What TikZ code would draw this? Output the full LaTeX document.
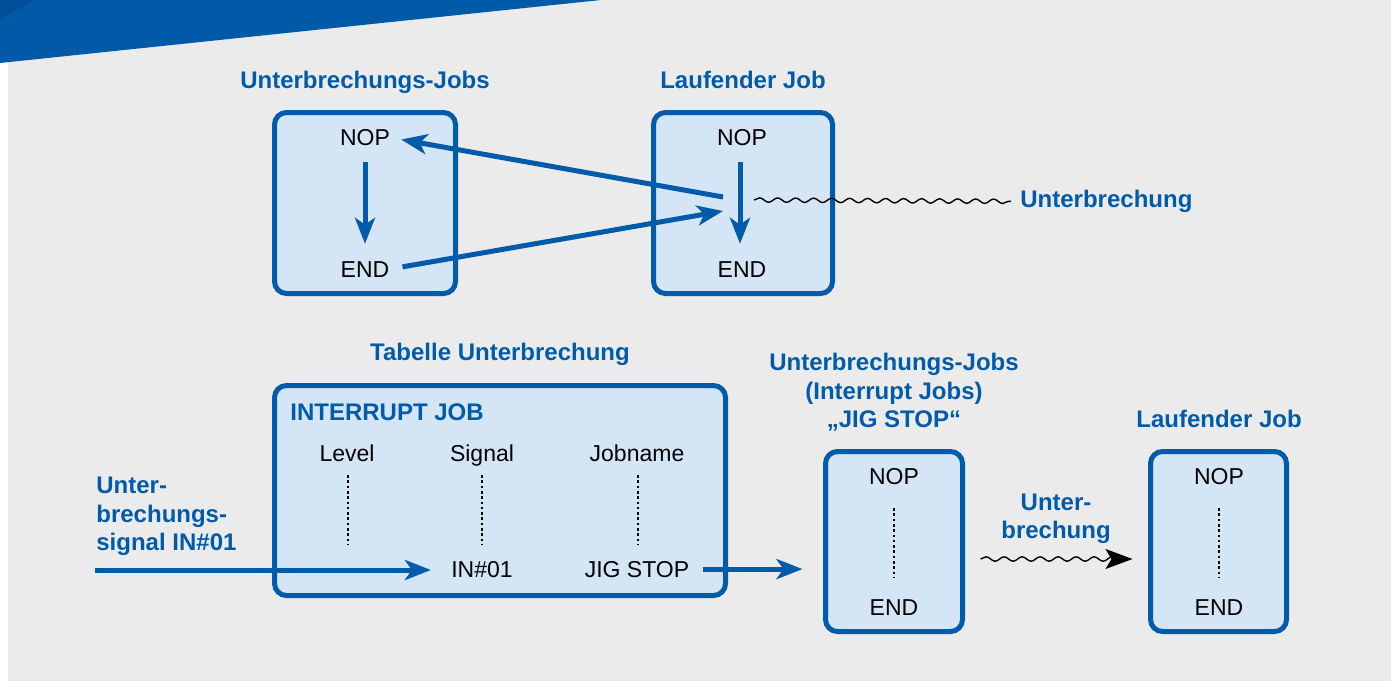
\documentclass[tikz,border=0pt]{standalone}
\usepackage{fontspec}
\setmainfont{Liberation Sans}
\usetikzlibrary{arrows.meta,decorations.pathmorphing,calc}

\definecolor{sigblue}{RGB}{0,91,170}
\definecolor{bandblue}{RGB}{0,90,168}
\definecolor{banddark}{RGB}{0,78,150}
\definecolor{boxfill}{RGB}{212,229,246}
\definecolor{pagegray}{RGB}{235,235,235}

\tikzset{
  jobbox/.style={draw=sigblue, fill=boxfill, line width=2.5pt, rounded corners=6pt, inner sep=0pt},
  txt/.style={font=\fontsize{11.5}{13}\selectfont, text=black, inner sep=0pt, anchor=base},
  heading/.style={font=\fontsize{12}{14.25}\selectfont\bfseries, text=sigblue, inner sep=0pt, anchor=base, align=center},
  flow/.style={draw=sigblue, line width=2.5pt, -{Stealth[length=13pt,width=10pt,inset=3.5pt]}},
  dotline/.style={draw=black, line width=1.3pt, dash pattern=on 1.3pt off 1.35pt},
  wavy/.style={draw=black, line width=0.7pt, decorate, decoration={snake, amplitude=1.1pt, segment length=9pt}},
}

\begin{document}
\begin{tikzpicture}[x=0.5pt, y=-0.5pt]
  % page frame
  \useasboundingbox (0,0) rectangle (1391,681);
  \fill[pagegray] (8,0) rectangle (1391,681);
  \fill[bandblue] (0,0) -- (601,0) -- (0,63) -- cycle;
  \fill[banddark] (0,0) -- (34,0) -- (0,20) -- cycle;

  % ---------- upper part: jump into the interrupt job and back ----------
  \node[heading] (t1) at (365,88.5) {Unterbrechungs-Jobs};
  \node[heading] (t2) at (743,88.5) {Laufender Job};
  \node[jobbox, minimum width=90.5pt, minimum height=90.5pt] (box1) at (365,203) {};
  \node[jobbox, minimum width=89.5pt, minimum height=90.5pt] (box2) at (743,203) {};

  \node[txt] (nop1) at (365,145.5) {NOP};
  \node[txt] (end1) at (365,277) {END};
  \node[txt] (nop2) at (742,145.5) {NOP};
  \node[txt] (end2) at (742,277) {END};

  \coordinate (jmpout) at (723,197);
  \coordinate (jmpin) at (723,211);
  \coordinate (wstart) at (754,200);

  \draw[flow, shorten <=8pt, shorten >=8.5pt] (nop1) -- (end1);
  \draw[flow, shorten <=8pt, shorten >=8.5pt] ([xshift=-1pt]nop2.south) -- ([xshift=-1pt]end2.north);
  \draw[flow, shorten >=5.5pt] (jmpout) -- (nop1.east);
  \draw[flow, shorten <=6.5pt] (end1.east) -- (jmpin);

  \node[heading, anchor=base west] (irq) at (1020,207.5) {Unterbrechung};
  \draw[wavy] (wstart) -- ($(irq.west)+(-9,0)$);

  % ---------- lower part: interrupt table ----------
  \node[heading] (t3) at (500,360.5) {Tabelle Unterbrechung};
  \node[jobbox, minimum width=225.5pt, minimum height=105pt] (table) at (500,490.5) {};
  \node[heading, anchor=base west] (ij) at (290,420.5) {INTERRUPT JOB};

  \node[txt] (level) at (347,461) {Level};
  \node[txt] (signal) at (482,461) {Signal};
  \node[txt] (jobname) at (637,461) {Jobname};
  \node[txt] (in01) at (482,577) {IN\#01};
  \node[txt] (jig) at (637,577) {JIG STOP};

  \draw[dotline] (348,475) -- (348,544);
  \draw[dotline] (482,475) -- (482,544);
  \draw[dotline] (638,475) -- (638,544);

  \node[heading, anchor=base west, align=left] (sig) at (96,550.5)
    {Unter-\\brechungs-\\signal IN\#01};
  \coordinate (sigstart) at (95,570);
  \draw[flow, shorten >=10pt] (sigstart) -- (sigstart -| in01.west);

  % ---------- interrupt job and running job ----------
  \node[heading] (t4) at (894,427.5) {Unterbrechungs-Jobs\\(Interrupt Jobs)\\„JIG STOP“};
  \node[heading] (t5) at (1219,427.5) {Laufender Job};
  \node[jobbox, minimum width=68.5pt, minimum height=90pt] (box3) at (894,541.5) {};
  \node[jobbox, minimum width=68pt, minimum height=90pt] (box4) at (1218.5,541.5) {};

  \node[txt] (nop3) at (894,484) {NOP};
  \node[txt] (end3) at (894,615) {END};
  \node[txt] (nop4) at (1219,484) {NOP};
  \node[txt] (end4) at (1219,615) {END};
  \draw[dotline] (894,508) -- (894,578);
  \draw[dotline] (1219,508) -- (1219,578);

  \draw[flow, shorten <=6.5pt, shorten >=10.25pt] (jig.east) -- (jig.east -| box3.west);

  \node[heading] (t6) at (1056,538.5) {Unter-\\brechung};
  \draw[wavy, decoration={post length=2pt}, -{Stealth[length=13.5pt,width=10pt,inset=3pt]}]
    ($(box3.east)+(15.5,17.5)$) -- ($(box4.west)+(-15.5,17.5)$);
\end{tikzpicture}
\end{document}
